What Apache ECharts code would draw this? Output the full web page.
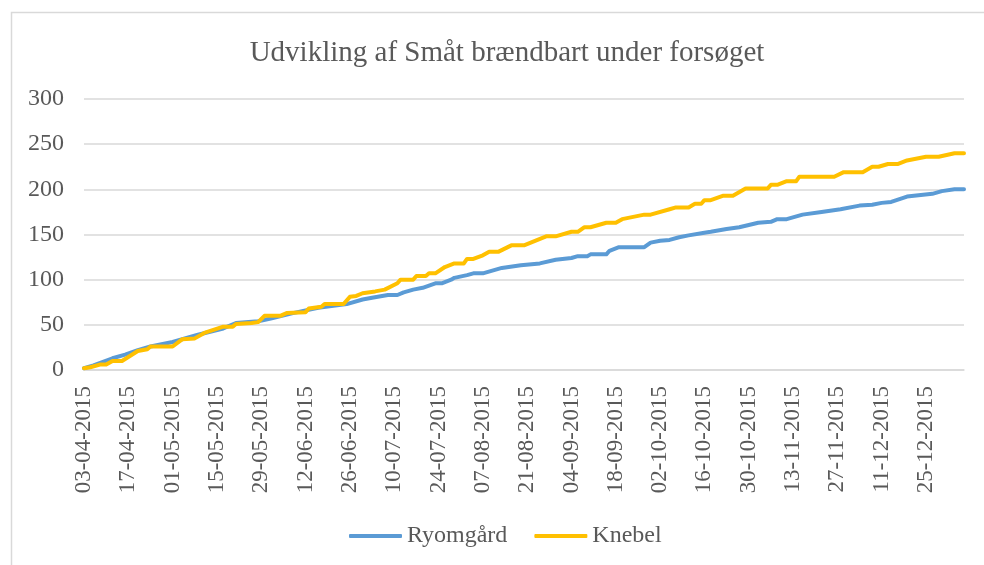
<!DOCTYPE html>
<html>
<head>
<meta charset="utf-8">
<title>Småt brændbart</title>
<script src="https://cdn.jsdelivr.net/npm/echarts@6/dist/echarts.min.js"></script>
<style>
html,body{margin:0;padding:0;background:#fff;}
#chart{width:984px;height:565px;}
</style>
</head>
<body>
<div id="chart"></div>
<script>
/********
 *  Udvikling af Småt brændbart under forsøget
 */
var titleText="Udvikling af Småt brændbart under forsøget";
var seriesNames=["Ryomgård","Knebel"];

// akse
var startDate="03-04-2015";
var endDate="06-01-2016";
var tickLabels=["03-04-2015","17-04-2015","01-05-2015","15-05-2015","29-05-2015","12-06-2015",
	"26-06-2015","10-07-2015","24-07-2015","07-08-2015","21-08-2015","04-09-2015","18-09-2015",
	"02-10-2015","16-10-2015","30-10-2015","13-11-2015","27-11-2015","11-12-2015","25-12-2015"];
var yTicks=[0,50,100,150,200,250,300];

// Ryomgård
var ryomDates=["03-04-2015","06-04-2015","12-04-2015","16-04-2015","20-04-2015","24-04-2015",
	"01-05-2015","09-05-2015","17-05-2015","21-05-2015","28-05-2015","01-06-2015","08-06-2015",
	"16-06-2015","25-06-2015","30-06-2015","03-07-2015","08-07-2015","11-07-2015","13-07-2015",
	"16-07-2015","19-07-2015","23-07-2015","25-07-2015","28-07-2015","29-07-2015","02-08-2015",
	"04-08-2015","07-08-2015","13-08-2015","19-08-2015","25-08-2015","30-08-2015","04-09-2015",
	"06-09-2015","09-09-2015","10-09-2015","15-09-2015","16-09-2015","19-09-2015","27-09-2015",
	"29-09-2015","02-10-2015","05-10-2015","08-10-2015","11-10-2015","16-10-2015","18-10-2015",
	"23-10-2015","27-10-2015","02-11-2015","06-11-2015","08-11-2015","11-11-2015","16-11-2015",
	"22-11-2015","28-11-2015","04-12-2015","08-12-2015","11-12-2015","14-12-2015","19-12-2015",
	"27-12-2015","30-12-2015","03-01-2016","06-01-2016"];
var ryomValues=[2,5,13,17,22,26,
	31,39,46,52,54,57,63,
	69,73,78,80,83,83,86,
	89,91,96,96,100,102,105,
	107,107,113,116,118,122,124,
	126,126,128,128,132,136,136,
	141,143,144,147,149,152,153,
	156,158,163,164,167,167,172,
	175,178,182,183,185,186,192,
	195,198,200,200];

// Knebel
var knebelDates=["03-04-2015","05-04-2015","08-04-2015","10-04-2015","12-04-2015","15-04-2015",
	"20-04-2015","23-04-2015","24-04-2015","01-05-2015","04-05-2015","08-05-2015","11-05-2015",
	"17-05-2015","20-05-2015","21-05-2015","26-05-2015","28-05-2015","30-05-2015","04-06-2015",
	"06-06-2015","12-06-2015","13-06-2015","17-06-2015","18-06-2015","24-06-2015","26-06-2015",
	"28-06-2015","30-06-2015","04-07-2015","07-07-2015","11-07-2015","12-07-2015","16-07-2015",
	"17-07-2015","20-07-2015","21-07-2015","23-07-2015","26-07-2015","29-07-2015","01-08-2015",
	"02-08-2015","04-08-2015","07-08-2015","09-08-2015","12-08-2015","16-08-2015","20-08-2015",
	"27-08-2015","30-08-2015","04-09-2015","06-09-2015","08-09-2015","10-09-2015","15-09-2015",
	"18-09-2015","20-09-2015","27-09-2015","29-09-2015","05-10-2015","07-10-2015","11-10-2015",
	"13-10-2015","15-10-2015","16-10-2015","18-10-2015","22-10-2015","25-10-2015","29-10-2015",
	"05-11-2015","06-11-2015","08-11-2015","11-11-2015","14-11-2015","15-11-2015","26-11-2015",
	"29-11-2015","05-12-2015","08-12-2015","10-12-2015","13-12-2015","16-12-2015","19-12-2015",
	"25-12-2015","29-12-2015","03-01-2016","06-01-2016"];
var knebelValues=[2,3,6,6,10,10,
	21,23,26,26,34,35,41,
	48,48,51,52,53,60,60,
	63,64,68,70,73,73,81,
	82,85,87,89,96,100,100,
	104,104,107,107,114,118,118,
	123,123,127,131,131,138,138,
	148,148,153,153,158,158,163,
	163,167,172,172,178,180,180,
	184,184,188,188,193,193,201,
	201,205,205,209,209,214,214,
	219,219,225,225,228,228,232,
	236,236,240,240];

var colors=["#5B9BD5","#FFC000"];
var textColor="#595959";
var gridColor="#D9D9D9";
var font="'Liberation Serif','Times New Roman',serif";

/****
 * dd-mm-yyyy -> tid
 */
function toTime(s){
	var p=s.split("-");
	return new Date(+p[2],+p[1]-1,+p[0]).getTime();
}
function pad(n){
	return n<10?"0"+n:""+n;
}
function fmtDate(v){
	var d=new Date(v);
	return pad(d.getDate())+"-"+pad(d.getMonth()+1)+"-"+d.getFullYear();
}
function pairs(dates,values){
	var out=[];
	for(var i=0;i<dates.length;i++){
		out.push([toTime(dates[i]),values[i]]);
	}
	return out;
}

function initChart(){
	var dom=document.getElementById("chart");
	var chart=echarts.init(dom,null,{renderer:"canvas"});
	var option={
		backgroundColor:"#fff",
		animation:false,
		color:colors,
		textStyle:{fontFamily:font},
		graphic:[{
			type:"rect",
			shape:{x:11.5,y:12.5,width:990,height:600},
			style:{fill:"none",stroke:gridColor,lineWidth:1.5},
			silent:true
		}],
		title:{
			text:titleText,
			left:502,
			top:34,
			textAlign:"center",
			textStyle:{fontFamily:font,fontSize:29,fontWeight:"normal",color:textColor}
		},
		legend:{
			data:seriesNames,
			left:344,
			top:519,
			icon:"roundRect",
			itemWidth:53,
			itemHeight:4,
			itemGap:27,
			textStyle:{fontFamily:font,fontSize:24,color:textColor}
		},
		grid:{left:84,right:20,top:99,bottom:195,containLabel:false},
		//dato-akse som talakse, etiketter hver 14. dag
		xAxis:{
			type:"value",
			min:toTime(startDate),
			max:toTime(endDate),
			axisLine:{show:true,lineStyle:{color:gridColor,width:1.5}},
			axisTick:{show:false},
			splitLine:{show:false},
			axisLabel:{
				customValues:tickLabels.map(toTime),
				rotate:90,
				margin:16,
				fontFamily:font,
				fontSize:23,
				color:textColor,
				hideOverlap:false,
				formatter:function(v){return fmtDate(v);}
			}
		},
		yAxis:{
			type:"value",
			min:yTicks[0],
			max:yTicks[yTicks.length-1],
			interval:50,
			axisLine:{show:false},
			axisTick:{show:false},
			splitLine:{lineStyle:{color:gridColor,width:1.5}},
			axisLabel:{fontFamily:font,fontSize:24,color:textColor,margin:20}
		},
		series:[
			{
				name:seriesNames[0],
				type:"line",
				data:pairs(ryomDates,ryomValues),
				showSymbol:false,
				lineStyle:{width:4,color:colors[0],cap:"round",join:"round"}
			},
			{
				name:seriesNames[1],
				type:"line",
				data:pairs(knebelDates,knebelValues),
				showSymbol:false,
				lineStyle:{width:4,color:colors[1],cap:"round",join:"round"}
			}
		]
	};
	chart.setOption(option,true);
}

initChart();
</script>
</body>
</html>
